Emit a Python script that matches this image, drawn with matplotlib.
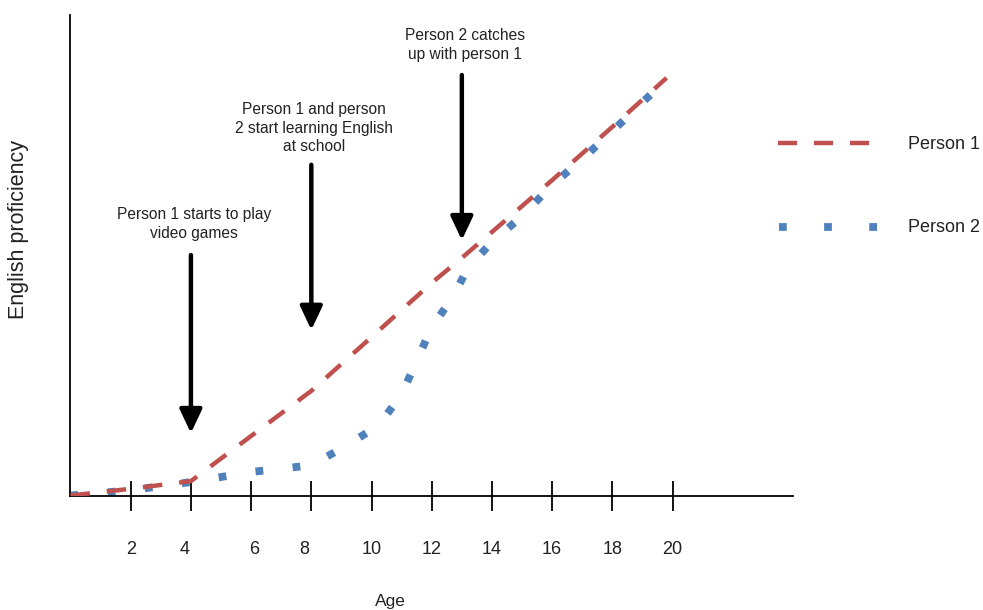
import matplotlib
matplotlib.use("Agg")
import matplotlib.pyplot as plt
from matplotlib.lines import Line2D
from matplotlib.transforms import ScaledTranslation

plt.rcParams['font.family'] = ['Liberation Sans', 'DejaVu Sans']

# ages and proficiency (0-100 scale)
p1_age = [0, 2, 4, 6, 8, 10, 12, 13, 14, 16, 18, 19.8]
p1_val = [0, 1.4, 3.0, 12.4, 21.8, 33.0, 44.3, 49.5, 54.9, 65.7, 76.8, 87.0]

p2_age = [0, 2, 4, 6, 8, 9.2, 10.25, 11, 11.5, 12, 12.7, 13.2, 14, 15, 16, 17, 18, 19.8]
p2_val = [0, 1.1, 2.8, 4.9, 6.3, 10.5, 14.7, 21.1, 28.0, 35.1, 41.3, 47.4, 52.8, 58.2, 64.7, 70.1, 75.9, 86.7]

tick_ages = [2, 4, 6, 8, 10, 12, 14, 16, 18, 20]

# annotations: text, age, arrow top, arrow tip, text centre height
notes = [
    ("Person 1 starts to play\nvideo games", 4, 50.1, 13.0, 56.6),
    ("Person 1 and person\n2 start learning English\nat school", 8, 68.9, 34.5, 76.5),
    ("Person 2 catches\nup with person 1", 13, 87.6, 53.2, 93.8),
]

red = '#C0504D'
blue = '#4F81BD'
txt = '#222222'

fig = plt.figure(figsize=(9.83, 6.10), dpi=100)
ax = fig.add_axes([0.0717, 0.1877, 0.735, 0.7869])

ax.plot(p1_age, p1_val, color=red, lw=3.2, dashes=(4.4, 3.8), dash_capstyle='butt', zorder=3)
ax.plot(p2_age, p2_val, color=blue, lw=5.6, dashes=(1.0, 3.8), dash_capstyle='butt', zorder=2)

ax.set_xlim(0, 24)
ax.set_ylim(0, 100)
for s in ['top', 'right']:
    ax.spines[s].set_visible(False)
for s in ['left', 'bottom']:
    ax.spines[s].set_linewidth(1.3)
    ax.spines[s].set_color('black')

ax.set_xticks(tick_ages)
ax.set_xticklabels([str(a) for a in tick_ages], fontsize=13, color=txt)
ax.tick_params(axis='x', direction='inout', length=21.6, width=1.3, pad=22)
ax.set_yticks([])

# the source nudges a few labels sideways
nudge = {4: -6, 6: 3, 8: -7}
for a, lab in zip(tick_ages, ax.get_xticklabels()):
    if a in nudge:
        lab.set_transform(lab.get_transform() +
                          ScaledTranslation(nudge[a] / 100, 0, fig.dpi_scale_trans))

ax.set_xlabel('Age', fontsize=12.5, color=txt)
ax.set_ylabel('English proficiency', fontsize=15.5, color=txt)
ax.yaxis.set_label_coords(-0.057, 0.555)
ax.xaxis.set_label_coords(0.443, -0.205)

for text, age, top, tip, ty in notes:
    ax.annotate('', xy=(age, tip), xytext=(age, top),
                arrowprops=dict(arrowstyle='-|>,head_width=0.26,head_length=0.55',
                                lw=3.2, color='black',
                                mutation_scale=26, shrinkA=0, shrinkB=0))
    ax.text(age + 0.1, ty, text, ha='center', va='center', fontsize=11.2,
            color=txt, linespacing=1.3)

# legend drawn by hand
fig.add_artist(Line2D([778 / 983, 870 / 983], [1 - 143 / 610, 1 - 143 / 610],
                      color=red, lw=3.2, dashes=(4.3, 3.8), dash_capstyle='butt'))
fig.add_artist(Line2D([779 / 983, 877 / 983], [1 - 227 / 610, 1 - 227 / 610],
                      color=blue, lw=5.6, dashes=(1.0, 4.8), dash_capstyle='butt'))
fig.text(908 / 983, 1 - 145 / 610, 'Person 1', fontsize=13, color=txt, va='center')
fig.text(908 / 983, 1 - 228 / 610, 'Person 2', fontsize=13, color=txt, va='center')

fig.savefig('out.png', dpi=100)
